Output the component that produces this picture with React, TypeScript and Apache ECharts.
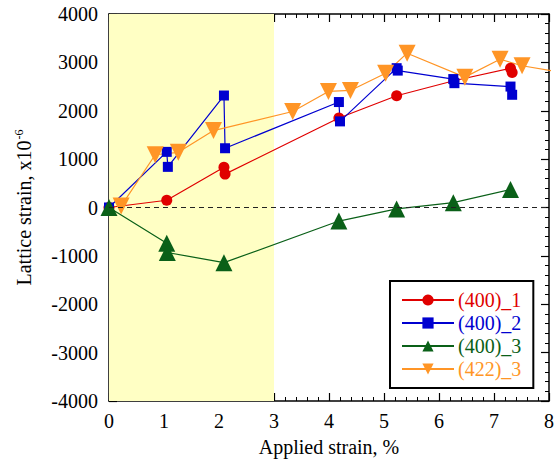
import React, { useEffect, useRef } from "react";
import * as echarts from "echarts";

const seriesNames = ["(400)_1", "(400)_2", "(400)_3", "(422)_3"];
const colors = ["#e00000", "#0000d0", "#0a6018", "#ff9526"];

const red400_1: [number, number][] = [
  [0, 0], [1.05, 150], [2.09, 830], [2.11, 690], [4.18, 1850], [5.23, 2310],
  [6.27, 2620], [7.3, 2880], [7.33, 2790],
];
const blue400_2: [number, number][] = [
  [0, 0], [1.05, 1150], [1.07, 840], [2.09, 2315], [2.11, 1225], [4.18, 2180],
  [4.2, 1780], [5.23, 2880], [5.25, 2830], [6.26, 2655], [6.28, 2570],
  [7.3, 2500], [7.33, 2330],
];
const green400_3: [number, number][] = [
  [0, 0], [1.05, -740], [1.06, -930], [2.09, -1140], [4.18, -280],
  [5.23, -30], [6.26, 100], [7.3, 370],
];
const orange422_3: [number, number][] = [
  [0.22, 30], [0.84, 1090], [1.26, 1140], [1.9, 1590], [3.34, 1985],
  [3.99, 2400], [4.39, 2420], [5.03, 2775], [5.42, 3190], [6.47, 2695],
  [7.11, 3065], [7.51, 2930], [8.5, 2740],
];

const xTicks = { min: 0, max: 8, interval: 1 };
const yTicks = { min: -4000, max: 4000, interval: 1000 };
const bandRange = [0, 3];

const FONT = "Liberation Serif";

export default function App() {
  const ref = useRef<HTMLDivElement>(null);
  useEffect(() => {
    if (!ref.current) return;
    const chart = echarts.init(ref.current, undefined, { renderer: "svg" });
    const axisCommon = {
      axisLine: { show: true, onZero: false, lineStyle: { color: "#000", width: 1.5 } },
      axisTick: { show: true, inside: true, length: 8, lineStyle: { color: "#000", width: 1.2 } },
      minorTick: { show: true, splitNumber: 5, length: 4, lineStyle: { color: "#000", width: 1 } },
      splitLine: { show: false },
    };
    const sym = ["circle", "rect", "triangle", "triangle"];
    const symSize = [11, 10, 17, 17];
    const rot = [0, 0, 0, 180];
    const datasets = [red400_1, blue400_2, green400_3, orange422_3];
    const series: any[] = datasets.map((d, i) => ({
      name: seriesNames[i],
      type: "line",
      data: d.map((p) =>
        p[0] > xTicks.max ? { value: p, symbol: "none" } : { value: p }
      ),
      symbol: sym[i],
      symbolSize: symSize[i],
      symbolRotate: rot[i],
      showAllSymbol: true,
      clip: true,
      z: 3,
      lineStyle: { color: colors[i], width: 1.2 },
      itemStyle: { color: colors[i] },
    }));
    series.unshift({
      name: "band",
      type: "line",
      data: [],
      z: 1,
      markArea: {
        silent: true,
        itemStyle: { color: "#ffffc4" },
        data: [[{ xAxis: bandRange[0] }, { xAxis: bandRange[1] }]],
      },
      markLine: {
        silent: true,
        symbol: "none",
        label: { show: false },
        lineStyle: { color: "#222", type: [5, 4], width: 1.2 },
        data: [{ yAxis: 0 }],
      },
    });
    chart.setOption({
      animation: false,
      backgroundColor: "#fff",
      textStyle: { fontFamily: FONT },
      grid: { left: 109, right: 11, top: 14, bottom: 62 },
      legend: {
        data: seriesNames.map((n, i) => ({ name: n, textStyle: { color: colors[i] } })),
        orient: "vertical",
        left: 390,
        top: 281,
        padding: [9, 12, 9, 11],
        itemGap: 3,
        itemWidth: 52,
        itemHeight: 14,
        borderColor: "#000",
        borderWidth: 2,
        backgroundColor: "#fff",
        textStyle: { fontFamily: FONT, fontSize: 20, padding: [0, 0, 0, -1] },
      },
      xAxis: [
        {
          type: "value",
          ...xTicks,
          position: "bottom",
          ...axisCommon,
          axisLabel: { color: "#000", fontSize: 20, fontFamily: FONT, margin: 10, formatter: (v: number) => String(v) },
          name: "Applied strain, %",
          nameLocation: "middle",
          nameGap: 36,
          nameTextStyle: { color: "#000", fontSize: 20, fontFamily: FONT },
        },
        {
          type: "value",
          ...xTicks,
          position: "top",
          ...axisCommon,
          axisLabel: { show: false },
        },
      ],
      yAxis: [
        {
          type: "value",
          ...yTicks,
          position: "left",
          ...axisCommon,
          axisLabel: { color: "#000", fontSize: 20, fontFamily: FONT, margin: 11, formatter: (v: number) => String(v) },
          name: "Lattice strain, x10{sup|-6}",
          nameLocation: "middle",
          nameGap: 74,
          nameTextStyle: {
            color: "#000",
            fontSize: 20,
            fontFamily: FONT,
            rich: { sup: { fontSize: 12, fontFamily: FONT, verticalAlign: "top", padding: [0, 0, 10, 1] } },
          },
        },
        {
          type: "value",
          ...yTicks,
          position: "right",
          ...axisCommon,
          axisLabel: { show: false },
        },
      ],
      series,
    });
    return () => chart.dispose();
  }, []);
  return <div ref={ref} style={{ width: 560, height: 463, position: "absolute", left: 0, top: 0 }} />;
}
